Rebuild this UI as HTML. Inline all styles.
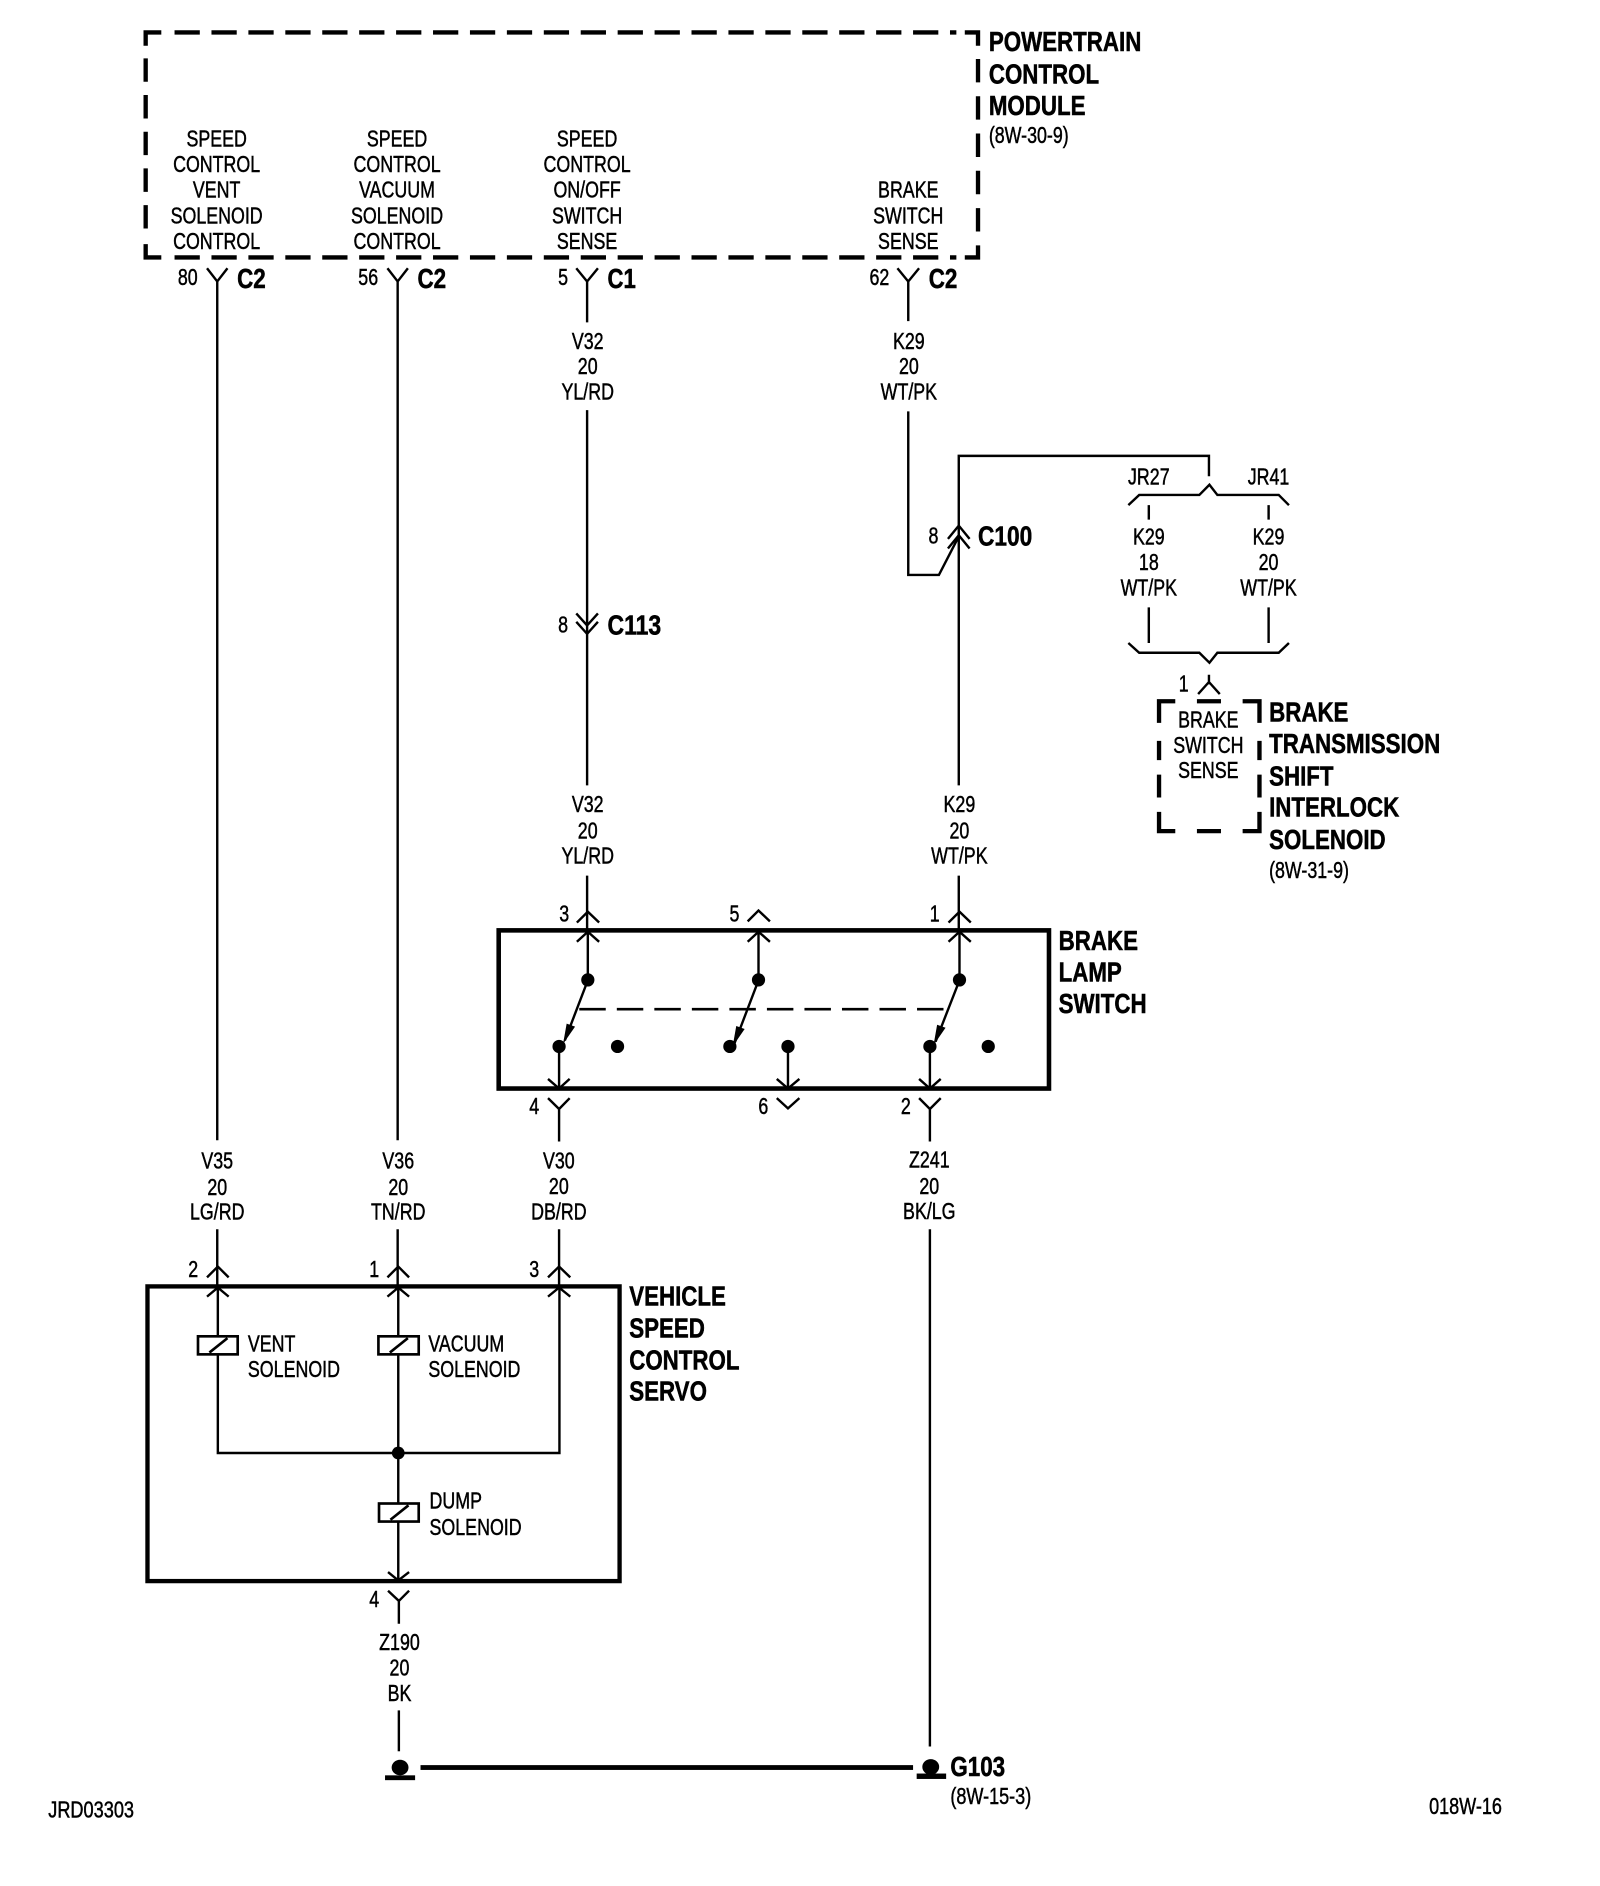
<!DOCTYPE html>
<html><head><meta charset="utf-8"><style>
html,body{margin:0;padding:0;background:#fff}
svg{display:block}
text{font-family:"Liberation Sans",sans-serif;fill:#000}
.r text,.r{font-size:19px;text-anchor:middle;stroke:#000;stroke-width:.4}
.l text,.l{font-size:19px;text-anchor:start;stroke:#000;stroke-width:.4}
.b text,.b{font-size:23px;font-weight:bold;text-anchor:start;stroke:#000;stroke-width:.45}
.w{fill:none;stroke:#000;stroke-width:2}
.h{fill:none;stroke:#000;stroke-width:3.6}
</style></head><body>
<svg width="1600" height="1886" viewBox="0 0 1330 1568" xmlns="http://www.w3.org/2000/svg">
<rect width="1330" height="1568" fill="#fff"/>

<!-- PCM dashed box -->
<g class="h">
<path d="M121 38V27H134M802 27H813V38M121 203V214H134M802 214H813V204"/>
<path d="M145 27H795" stroke-dasharray="21 9.7"/>
<path d="M145 214H795" stroke-dasharray="21 9.7"/>
<path d="M121 48.5V195" stroke-dasharray="19.5 11"/>
<path d="M813 49V195" stroke-dasharray="19.5 11.5"/>
</g>
<g class="b">
<g transform="translate(822 0) scale(.807 1)"><text y="42.5">POWERTRAIN</text><text y="69.5">CONTROL</text><text y="95.5">MODULE</text></g>
</g>
<g class="l"><g transform="translate(822 0) scale(.78 1)"><text y="119">(8W-30-9)</text></g></g>

<g class="r">
<g transform="translate(180 0) scale(.78 1)"><text y="122">SPEED</text><text y="143">CONTROL</text><text y="164">VENT</text><text y="186">SOLENOID</text><text y="207">CONTROL</text></g>
<g transform="translate(330 0) scale(.78 1)"><text y="122">SPEED</text><text y="143">CONTROL</text><text y="164">VACUUM</text><text y="186">SOLENOID</text><text y="207">CONTROL</text></g>
<g transform="translate(488 0) scale(.78 1)"><text y="122">SPEED</text><text y="143">CONTROL</text><text y="164">ON/OFF</text><text y="186">SWITCH</text><text y="207">SENSE</text></g>
<g transform="translate(755 0) scale(.78 1)"><text y="164">BRAKE</text><text y="186">SWITCH</text><text y="207">SENSE</text></g>
<g transform="translate(156 0) scale(.78 1)"><text y="237">80</text></g>
<g transform="translate(306 0) scale(.78 1)"><text y="237">56</text></g>
<g transform="translate(468 0) scale(.78 1)"><text y="237">5</text></g>
<g transform="translate(731 0) scale(.78 1)"><text y="237">62</text></g>
<g transform="translate(488.5 0) scale(.78 1)"><text y="290">V32</text><text y="311">20</text><text y="332">YL/RD</text></g>
<g transform="translate(755.5 0) scale(.78 1)"><text y="290">K29</text><text y="311">20</text><text y="332">WT/PK</text></g>
<g transform="translate(468 0) scale(.78 1)"><text y="526">8</text></g>
<g transform="translate(776 0) scale(.78 1)"><text y="452">8</text></g>
<g transform="translate(955 0) scale(.78 1)"><text y="403">JR27</text><text y="452.5">K29</text><text y="474">18</text><text y="495">WT/PK</text></g>
<g transform="translate(1054.5 0) scale(.78 1)"><text y="403">JR41</text><text y="452.5">K29</text><text y="474">20</text><text y="495">WT/PK</text></g>
<g transform="translate(984 0) scale(.78 1)"><text y="575">1</text></g>
<g transform="translate(1004.5 0) scale(.78 1)"><text y="605">BRAKE</text><text y="626">SWITCH</text><text y="647">SENSE</text></g>
<g transform="translate(488.5 0) scale(.78 1)"><text y="675">V32</text><text y="697">20</text><text y="718">YL/RD</text></g>
<g transform="translate(797.5 0) scale(.78 1)"><text y="675">K29</text><text y="697">20</text><text y="718">WT/PK</text></g>
<g transform="translate(469 0) scale(.78 1)"><text y="766">3</text></g>
<g transform="translate(610.5 0) scale(.78 1)"><text y="766">5</text></g>
<g transform="translate(777 0) scale(.78 1)"><text y="766">1</text></g>
<g transform="translate(444 0) scale(.78 1)"><text y="926">4</text></g>
<g transform="translate(634.5 0) scale(.78 1)"><text y="926">6</text></g>
<g transform="translate(753 0) scale(.78 1)"><text y="926">2</text></g>
<g transform="translate(180.5 0) scale(.78 1)"><text y="971.5">V35</text><text y="993.5">20</text><text y="1014">LG/RD</text></g>
<g transform="translate(331 0) scale(.78 1)"><text y="971.5">V36</text><text y="993.5">20</text><text y="1014">TN/RD</text></g>
<g transform="translate(464.5 0) scale(.78 1)"><text y="971.5">V30</text><text y="992.5">20</text><text y="1014">DB/RD</text></g>
<g transform="translate(772.5 0) scale(.78 1)"><text y="970.5">Z241</text><text y="992.5">20</text><text y="1013.5">BK/LG</text></g>
<g transform="translate(160.5 0) scale(.78 1)"><text y="1061.5">2</text></g>
<g transform="translate(311 0) scale(.78 1)"><text y="1061.5">1</text></g>
<g transform="translate(444 0) scale(.78 1)"><text y="1061.5">3</text></g>
<g transform="translate(311 0) scale(.78 1)"><text y="1336">4</text></g>
<g transform="translate(332 0) scale(.78 1)"><text y="1372">Z190</text><text y="1393">20</text><text y="1414">BK</text></g>
</g>

<g class="l">
<g transform="translate(206 0) scale(.78 1)"><text y="1123.5">VENT</text><text y="1145">SOLENOID</text></g>
<g transform="translate(356 0) scale(.78 1)"><text y="1123.5">VACUUM</text><text y="1145">SOLENOID</text></g>
<g transform="translate(357 0) scale(.78 1)"><text y="1254">DUMP</text><text y="1276">SOLENOID</text></g>
<g transform="translate(1055 0) scale(.78 1)"><text y="730">(8W-31-9)</text></g>
<g transform="translate(790 0) scale(.79 1)"><text y="1500">(8W-15-3)</text></g>
<g transform="translate(40 0) scale(.795 1)"><text y="1511">JRD03303</text></g>
<g transform="translate(1188 0) scale(.79 1)"><text y="1508">018W-16</text></g>
</g>

<g class="b">
<g transform="translate(197 0) scale(.81 1)"><text y="239.5">C2</text></g>
<g transform="translate(347 0) scale(.81 1)"><text y="239.5">C2</text></g>
<g transform="translate(505 0) scale(.8 1)"><text y="239.5">C1</text></g>
<g transform="translate(772 0) scale(.81 1)"><text y="239.5">C2</text></g>
<g transform="translate(505 0) scale(.83 1)"><text y="527.5">C113</text></g>
<g transform="translate(813 0) scale(.82 1)"><text y="453.5">C100</text></g>
<g transform="translate(1055 0) scale(.807 1)"><text y="600">BRAKE</text><text y="626">TRANSMISSION</text><text y="653">SHIFT</text><text y="679">INTERLOCK</text><text y="706">SOLENOID</text></g>
<g transform="translate(880 0) scale(.807 1)"><text y="790">BRAKE</text><text y="816">LAMP</text><text y="842">SWITCH</text></g>
<g transform="translate(523 0) scale(.807 1)"><text y="1085.5">VEHICLE</text><text y="1112">SPEED</text><text y="1138.5">CONTROL</text><text y="1164.5">SERVO</text></g>
<g transform="translate(790 0) scale(.81 1)"><text y="1476.5">G103</text></g>
</g>

<!-- PCM connectors and wires -->
<g class="w">
<path d="M172 223L180.5 234L189 223M180.5 234V948M180.5 1022V1069"/>
<path d="M322 223L330.5 234L339 223M330.5 234V948M330.5 1022V1069"/>
<path d="M479 223L488 234L497 223M488 234V268M488 341V653M488 728V774"/>
<path d="M479 510L488 520L497 510M479 517L488 527L497 517"/>
<path d="M746 223L755 234L764 223M755 234V267M755 342V478H780.5L797 446"/>
<path d="M788 448L797 437L806 448M788 456L797 445L806 456"/>
<path d="M797 653V379H1005V396"/>
<path d="M938 420L947 411.5H997L1005.4 403L1012 411.5H1063L1071.5 420"/>
<path d="M955 420V432M1054.6 420V432M955 505V534.6M1054.6 505V534.6"/>
<path d="M938 534.6L947 542.7H997L1005.4 551L1012 542.7H1063L1071.5 534.6"/>
<path d="M1005 561V569M996 577L1005 567L1014 577"/>
<path d="M797 728V774"/>
</g>
<g class="h">
<path d="M963.5 601V583H977M995 583H1015M1033 583H1047V601"/>
<path d="M963.5 616V632M963.5 644V663M1047 616V632M1047 644V663"/>
<path d="M963.5 675V691H977M995 691H1015M1033 691H1047V675"/>
</g>

<!-- Brake lamp switch -->
<rect x="414.5" y="773.5" width="457.5" height="131.5" fill="none" stroke="#000" stroke-width="3.8"/>
<g class="w">
<path d="M479.5 767L488.6 758L498 767M479.5 783L488.6 774.6L498 783M488.6 775V815L469.5 865"/>
<path d="M621.5 766L630.5 757L640 766M621.5 783L630.5 774.6L640 783M630.5 775V815L610.7 867"/>
<path d="M788.5 767L797.6 758L807 767M788.5 783L797.6 774.6L807 783M797.6 775V815L777.7 866"/>
<path d="M464.7 870V905M455.5 897L464.7 905L473.5 897"/>
<path d="M655 870V905M645.7 897L655 905L664.5 897"/>
<path d="M773 870V905M764 897L773 905L782 897"/>
<path d="M455.5 913L464.7 922L473.5 913M464.7 922V949M464.7 1022V1069"/>
<path d="M645.7 913L655 921.5L664.5 913"/>
<path d="M764 913L773 922L782 913M773 922V949M773 1022V1452"/>
<path d="M481.5 839H786" stroke-width="2.2" stroke-dasharray="22 9.2"/>
</g>
<path d="M468 868L471 851L478 853.5Z"/>
<path d="M609 870L612 853L619 855.5Z"/>
<path d="M776 869L779 852L786 854.5Z"/>
<g>
<ellipse cx="488.6" cy="814.7" rx="5.5" ry="5.5"/>
<ellipse cx="630.5" cy="814.7" rx="5.5" ry="5.5"/>
<ellipse cx="797.6" cy="814.7" rx="5.5" ry="5.5"/>
<ellipse cx="464.7" cy="870" rx="5.5" ry="5.5"/>
<ellipse cx="513.3" cy="870" rx="5.5" ry="5.5"/>
<ellipse cx="606.7" cy="870" rx="5.5" ry="5.5"/>
<ellipse cx="655" cy="870" rx="5.5" ry="5.5"/>
<ellipse cx="773" cy="870" rx="5.5" ry="5.5"/>
<ellipse cx="821.5" cy="870" rx="5.5" ry="5.5"/>
</g>

<!-- Servo -->
<rect x="122.5" y="1069.5" width="392.5" height="245" fill="none" stroke="#000" stroke-width="3.6"/>
<g class="w">
<path d="M172 1062L181 1053L190 1062M172 1078L181 1070.5L190 1078M181 1071V1111M181 1126V1208H465V1071"/>
<path d="M322 1062L331 1053L340 1062M322 1078L331 1070.5L340 1078M331 1071V1111M331 1126V1250M331 1265V1314"/>
<path d="M455.5 1062L464.7 1053L474 1062M455.5 1078L464.7 1070.5L474 1078"/>
<path d="M322.5 1307L331 1314L340 1307M322.5 1322.5L331.5 1331L340 1322.5M331.5 1331V1350"/>
<path d="M331.5 1422V1456"/>
</g>
<g fill="none" stroke="#000" stroke-width="2.2">
<rect x="164.5" y="1111" width="33" height="15"/>
<path d="M174 1124.5L189 1112.5"/>
<rect x="314.5" y="1111" width="33.5" height="15"/>
<path d="M324 1124.5L339 1112.5"/>
<rect x="315" y="1250" width="33" height="15"/>
<path d="M324.5 1263.5L339.5 1251.5"/>
</g>
<circle cx="331" cy="1208" r="5.3"/>

<!-- Ground -->
<ellipse cx="332.5" cy="1469.5" rx="7" ry="6.5"/>
<rect x="320" y="1476" width="25" height="4"/>
<rect x="349.5" y="1467.5" width="409.5" height="4"/>
<ellipse cx="773.7" cy="1469" rx="7" ry="6.5"/>
<rect x="762" y="1474.5" width="24.5" height="4.5"/>
</svg>
</body></html>
